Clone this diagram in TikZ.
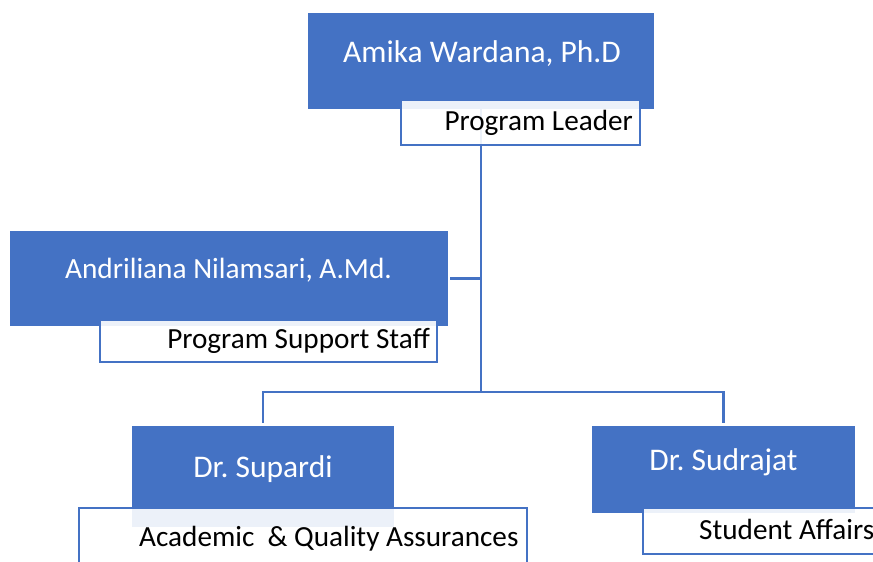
\documentclass[tikz,border=0pt]{standalone}
\usepackage{fontspec}
\setmainfont{Carlito}
\frenchspacing
\definecolor{oblue}{HTML}{4472C4}
\begin{document}
\begin{tikzpicture}[x=1pt,y=-1pt,
 namebox/.style={fill=oblue, draw=none, inner sep=0pt, outer sep=0pt, anchor=north west},
 rolebox/.style={fill=white, fill opacity=0.9, draw=oblue, line width=2pt, inner sep=0pt, outer sep=0pt, anchor=north west},
 nametext/.style={text=white, font=\fontsize{31.5}{36}\selectfont\frenchspacing, anchor=base, inner sep=0pt},
 roletext/.style={text=black, font=\fontsize{29.2}{34}\selectfont\frenchspacing, inner sep=0pt},
 link/.style={draw=oblue, line width=2.5pt}]
\useasboundingbox (0,0) rectangle (873,562);
\clip (0,0) rectangle (873,562);
% blue name boxes
\node[namebox, minimum width=346pt, minimum height=96pt] (amika) at (308,13) {};
\node[namebox, minimum width=438pt, minimum height=95pt] (andri) at (10,231) {};
\node[namebox, minimum width=262pt, minimum height=101pt] (supardi) at (132,426) {};
\node[namebox, minimum width=263pt, minimum height=87pt] (sudrajat) at (592,426) {};
% connectors
\coordinate (bus) at (481,392);
\draw[link] (amika.south) -- (bus);
\draw[link] ([xshift=2pt]andri.east) -- (andri.east -| bus);
\draw[link] ([yshift=3pt]supardi.north) |- (bus) -| ([yshift=3pt]sudrajat.north);
% role boxes
\node[rolebox, minimum width=239pt, minimum height=45pt] (amikarole) at (401,100) {};
\node[rolebox, minimum width=337pt, minimum height=42pt] (andrirole) at (100,320) {};
\node[rolebox, minimum width=448pt, minimum height=70pt] (supardirole) at (79,508) {};
\node[rolebox, minimum width=250pt, minimum height=46pt] (sudrajatrole) at (643,508) {};
% texts
\node[nametext] (t1) at (482,62) {Amika Wardana, Ph.D};
\node[roletext, anchor=base east] (r1) at (633,130) {Program Leader};
\node[nametext, font=\fontsize{29.3}{34}\selectfont\frenchspacing] (t2) at (228.5,278) {Andriliana Nilamsari, A.Md.};
\node[roletext, anchor=base east] (r2) at (430,348) {Program Support Staff};
\node[nametext] (t3) at (263,477) {Dr. Supardi};
\node[roletext, anchor=base west] (r3) at (139,546) {Academic\ \ \& Quality Assurances};
\node[nametext] (t4) at (723.5,470) {Dr. Sudrajat};
\node[roletext, anchor=base west] (r4) at (699,539) {Student Affairs};
\end{tikzpicture}
\end{document}
